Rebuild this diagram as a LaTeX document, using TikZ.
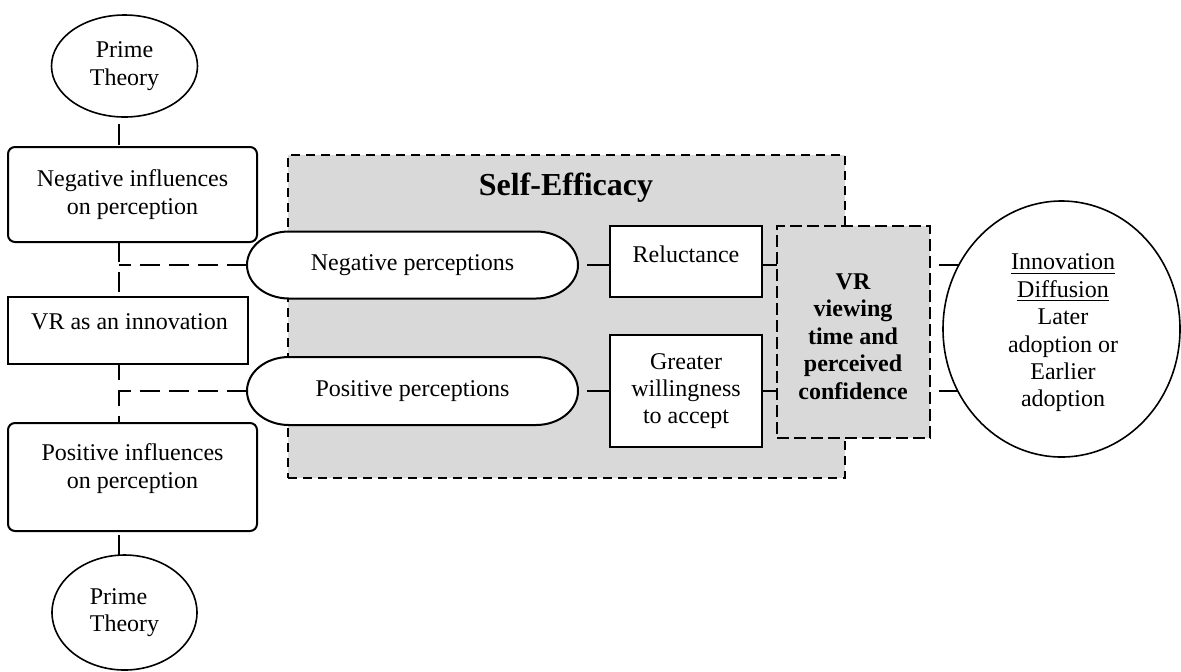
\documentclass[tikz,border=0pt]{standalone}
\usepackage{fontspec}
\setmainfont{Liberation Serif}
\usetikzlibrary{shapes.geometric}
\pgfdeclarelayer{bg}
\pgfdeclarelayer{conn}
\pgfdeclarelayer{shp}
\pgfsetlayers{bg,conn,shp,main}
\newcommand\stadiumpath[2]{%
  \draw[stadline] ([xshift=21pt]#1.north west) -- ([xshift=-21pt]#1.north east)
    arc[start angle=90,end angle=-90,x radius=21pt,y radius=#2]
    -- ([xshift=21pt]#1.south west)
    arc[start angle=270,end angle=90,x radius=21pt,y radius=#2] -- cycle;}
\tikzset{
  every node/.style={font=\fontsize{12}{13.7}\selectfont, outer sep=0pt},
  box/.style={draw, line width=1pt, fill=white, inner sep=0pt, align=center},
  rbox/.style={box, rounded corners=3.5pt},
  oval/.style={ellipse, draw, line width=0.8pt, fill=white, inner sep=0pt, align=center},
  stad/.style={inner sep=0pt, minimum width=165.5pt, align=center},
  stadline/.style={draw, line width=1pt, fill=white},
  txt/.style={inner sep=0pt, align=center},
  grayarea/.style={draw, fill=black!15, line width=0.75pt, dash pattern=on 4.5pt off 3pt, inner sep=0pt},
  vrbox/.style={draw, fill=black!15, line width=1pt, dash pattern=on 6pt off 2.5pt, inner sep=0pt},
  spine/.style={line width=1.3pt, dash pattern=on 10pt off 4.5pt},
  tick/.style={line width=1.3pt},
  link/.style={line width=1.2pt},
}
\begin{document}
\begin{tikzpicture}[x=0.5pt,y=-0.5pt]
\useasboundingbox (0,0) rectangle (1181,671);
\coordinate (sp) at (119,0);

% gray self-efficacy area
\begin{pgfonlayer}{bg}
\node[grayarea, minimum width=278.5pt, minimum height=161.5pt] (se) at (566.5,316.5) {};
\end{pgfonlayer}
\node[font=\fontsize{16}{19}\selectfont\bfseries, inner sep=0pt] (setitle) at (566,187.5) {Self-Efficacy};

% left column
\node[oval, minimum width=73pt, minimum height=51pt] (pt1) at (124.5,66) {Prime\\Theory};
\node[rbox, minimum width=124.5pt, minimum height=47.5pt] (neginf) at (132.5,194.5) {Negative influences\\on perception};
\node[box, minimum width=120pt, minimum height=33.5pt] (vrinn) at (128,330.5) {};
\node[txt] (vrinnt) at (129.5,322) {VR as an innovation};
\node[rbox, minimum width=124.5pt, minimum height=54pt] (posinf) at (132.5,477) {};
\node[txt] (posinft) at (132.5,468.5) {Positive influences\\on perception};
\node[oval, minimum width=72.5pt, minimum height=57.5pt, align=left] (pt2) at (124.5,612.5) {Prime\\Theory};

% perceptions
\node[stad, minimum height=33.5pt] (negp) at (412.5,265) {};
\node[stad, minimum height=34pt] (posp) at (412.5,391) {};
\begin{pgfonlayer}{shp}
\stadiumpath{negp}{16.75pt}
\stadiumpath{posp}{17pt}
\end{pgfonlayer}
\node[txt] (negpt) at (negp.center) {Negative perceptions};
\node[txt] (pospt) at (posp.center) {Positive perceptions};

% middle boxes
\node[box, minimum width=76pt, minimum height=35.5pt] (rel) at (686,261.5) {};
\node[txt] (relt) at (686,254) {Reluctance};
\node[box, minimum width=76pt, minimum height=56pt] (gw) at (686,391) {Greater\\willingness\\to accept};

% VR viewing box
\node[vrbox, minimum width=76.5pt, minimum height=106pt] (vr) at (853.5,332) {};
\node[txt, font=\fontsize{12}{13.7}\selectfont\bfseries] (vrt) at (853,336.5) {VR\\viewing\\time and\\perceived\\confidence};

% innovation diffusion
\node[oval, minimum width=118.5pt, minimum height=128pt] (circ) at (1061.5,329) {};
\node[txt] (circt) at (1063,333) {\underline{Innovation}\\\underline{Diffusion}\\Later\\adoption or\\Earlier\\adoption};

% connectors
\begin{pgfonlayer}{conn}
\draw[tick, shorten <=3.5pt, shorten >=1pt] (pt1.south -| sp) -- (neginf.north -| sp);
\draw[spine, dash pattern=on 10pt off 5pt] (neginf.south -| sp) -- (vrinn.north -| sp);
\draw[spine] (negp.west) -- (negp.west -| sp);
\draw[spine, dash pattern=on 8pt off 5pt] (vrinn.south -| sp) -- (posinf.north -| sp);
\draw[spine] (posp.west) -- (posp.west -| sp);
\draw[tick, shorten <=2pt] (posinf.south -| sp) -- (pt2.north -| sp);
\draw[link, shorten <=4.5pt] (negp.east) -- (rel.west |- negp.east);
\draw[link, shorten <=4.5pt] (posp.east) -- (gw.west |- posp.east);
\draw[link] (rel.east |- negp.east) -- (vr.west |- negp.east);
\draw[link] (gw.east |- posp.east) -- (vr.west |- posp.east);
\draw[link, shorten <=4.5pt] (vr.east |- negp.east) -- (circ.center |- negp.east);
\draw[link, shorten <=4.5pt] (vr.east |- posp.east) -- (circ.center |- posp.east);
\end{pgfonlayer}
\end{tikzpicture}
\end{document}
